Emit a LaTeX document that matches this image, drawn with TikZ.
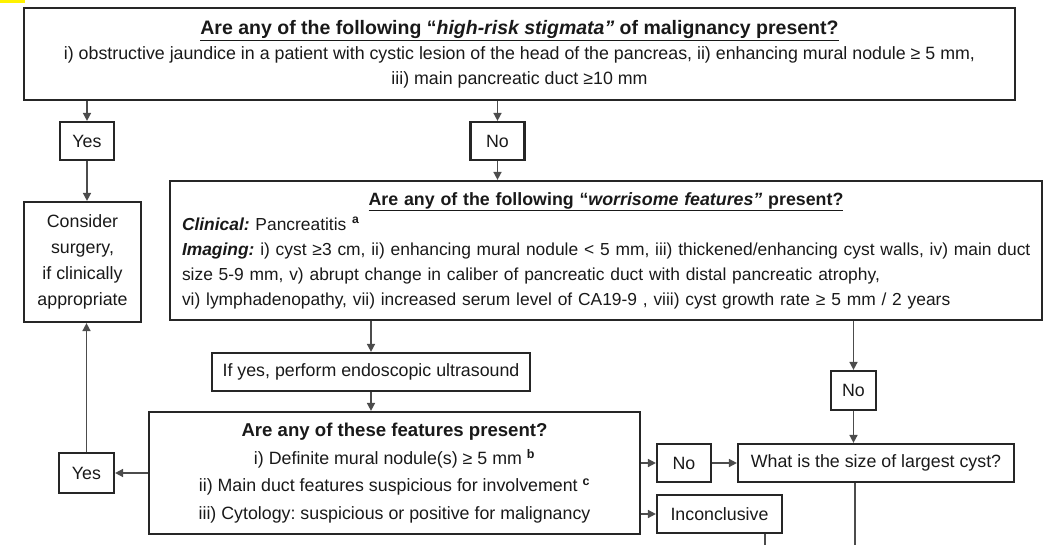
\documentclass[tikz,border=0pt]{standalone}
\usepackage{fontspec}
\setmainfont{Liberation Sans}
\frenchspacing
\usetikzlibrary{arrows.meta}
\tikzstyle{flowbox} = [draw=black!85, line width=2.2pt, rectangle, inner sep=0pt, align=center, text=black!90, font=\fontsize{17.8}{25}\selectfont]
\tikzstyle{answerbox} = [flowbox, minimum width=54pt, minimum height=38pt]
\tikzstyle{flowarrow} = [draw=black!70, line width=1.6pt, -{Triangle[length=8pt,width=8pt]}]
\tikzstyle{flowline} = [draw=black!70, line width=1.6pt]

\begin{document}
\begin{tikzpicture}[x=1pt, y=-1pt]
\useasboundingbox (0,0) rectangle (1044,545);
\fill[yellow] (0,0) rectangle (25,3);
% question boxes
\node[flowbox, minimum width=991pt, minimum height=92pt] (stigmata) at (519.5,54) {{\fontsize{19.5}{25}\selectfont\textbf{\underline{Are any of the following “\textit{high-risk stigmata”} of malignancy present?}}}\\
  i) obstructive jaundice in a patient with cystic lesion of the head of the pancreas, ii) enhancing mural nodule ≥ 5 mm,\\
  iii) main pancreatic duct ≥10 mm};
\node[flowbox, font=\fontsize{17.4}{25}\selectfont, minimum width=872pt, minimum height=139pt, text width=848pt, inner xsep=12pt, align=left] (worry) at (606,250.5) {{\centering\fontsize{17.8}{25}\selectfont\textbf{\underline{Are any of the following “\textit{worrisome features”} present?}}\par}
  \textbf{\textit{Clinical:}} Pancreatitis \textsuperscript{\textbf{a}}\\
  \mbox{\textbf{\textit{Imaging:}} i) cyst ≥3 cm, ii) enhancing mural nodule < 5 mm, iii) thickened/enhancing cyst walls, iv) main duct}\\
  size 5-9 mm, v) abrupt change in caliber of pancreatic duct with distal pancreatic atrophy,\\
  \mbox{vi) lymphadenopathy, vii) increased serum level of CA19-9 , viii) cyst growth rate ≥ 5 mm / 2 years}};
\node[flowbox, minimum width=318pt, minimum height=38pt] (eus) at (371,372) {If yes, perform endoscopic ultrasound};
\node[flowbox, minimum width=491pt, minimum height=122pt] (features) at (394.5,473) {{\fontsize{18.6}{25}\selectfont\textbf{Are any of these features present?}}\\[3pt]
  i) Definite mural nodule(s) ≥ 5 mm \textsuperscript{\textbf{b}}\\[2.5pt]
  ii) Main duct features suspicious for involvement \textsuperscript{\textbf{c}}\\[2.5pt]
  iii) Cytology: suspicious or positive for malignancy};
\node[flowbox, minimum width=117pt, minimum height=120pt] (surg) at (82.5,262) {Consider\\[1pt] surgery,\\[1pt] if clinically\\[1pt] appropriate};
\node[flowbox, minimum width=276pt, minimum height=38pt] (size) at (876,463) {What is the size of largest cyst?};
% answer boxes
\node[answerbox] (yes1) at (87,141) {Yes};
\node[answerbox] (no1) at (497.5,141) {No};
\node[answerbox, minimum width=45pt, minimum height=39pt] (no2) at (853.5,390.5) {No};
\node[answerbox, minimum width=55pt, minimum height=40pt] (yes2) at (86.5,473) {Yes};
\node[answerbox] (no3) at (684,463) {No};
\node[answerbox, minimum width=125pt] (inc) at (719.5,514) {Inconclusive};
\coordinate (incexit) at (765,545);
\coordinate (sizeexit) at (855,545);
% connectors
\draw[flowarrow] (stigmata.south -| yes1) -- (yes1);
\draw[flowarrow] (stigmata.south -| no1) -- (no1);
\draw[flowarrow] (yes1) -- (yes1 |- surg.north);
\draw[flowarrow] (no1) -- (no1 |- worry.north);
\draw[flowarrow] (worry.south -| eus) -- (eus);
\draw[flowarrow] (worry.south -| no2) -- (no2);
\draw[flowarrow] (eus) -- (eus |- features.north);
\draw[flowarrow] (features.west |- yes2) -- (yes2);
\draw[flowarrow] (yes2) -- (yes2 |- surg.south);
\draw[flowarrow] (features.east |- no3) -- (no3);
\draw[flowarrow] (no3) -- (size);
\draw[flowarrow] (no2) -- (no2 |- size.north);
\draw[flowarrow] (features.east |- inc) -- (inc);
\draw[flowline] (inc.south -| incexit) -- (incexit);
\draw[flowline] (size.south -| sizeexit) -- (sizeexit);
\end{tikzpicture}
\end{document}
